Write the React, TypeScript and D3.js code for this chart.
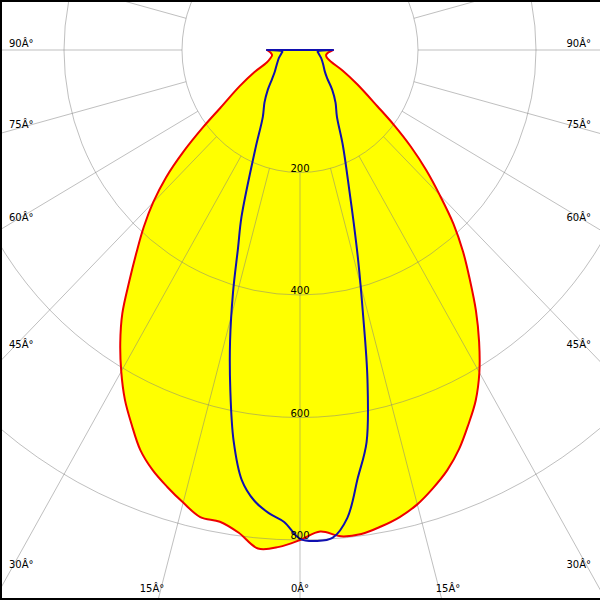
import React from "react";
import * as d3 from "d3";

// gamma angles (deg from nadir) and intensities (cd/klm)
const gammaRed = [0, 2.5, 5, 7.5, 10, 12.5, 15, 17.5, 20, 22.5, 25, 27.5, 30, 32.5, 35, 37.5, 40, 42.5, 45, 47.5, 50, 52.5, 55, 60, 65, 70, 75, 80, 85, 90];
const redC0 = [800, 787, 797, 797, 790, 781, 768, 750, 730, 705, 675, 645, 608, 565, 520, 473, 430, 385, 335, 290, 245, 200, 160, 112, 80, 56, 47, 45, 48, 56];
const redC180 = [800, 812, 817, 795, 782, 781, 765, 748, 730, 707, 675, 643, 606, 567, 525, 475, 431, 392, 352, 308, 257, 207, 165, 118, 85, 60, 52, 48, 50, 56];

const gammaBlue = [0, 2, 4, 6, 8, 10, 12, 14, 16, 18, 20, 25, 30, 35, 40, 45, 50, 60, 70, 80, 85, 90];
const blueC90 = [798, 802, 798, 768, 705, 650, 550, 440, 358, 293, 245, 172, 125, 105, 85, 65, 55, 45, 38, 32, 30, 56];
const blueC270 = [798, 771, 758, 740, 709, 648, 568, 490, 412, 340, 290, 180, 126, 105, 85, 67, 56, 45, 38, 32, 30, 56];

const ringValues = [200, 400, 600, 800];
const ringLabels = ["200", "400", "600", "800"];
const angleTicks = [90, 75, 60, 45, 30, 15, 0];
const angleLabel = (a: number) => `${a}Â°`;

const W = 600;
const H = 600;
const CX = 300;
const CY = 50;

const sx = d3.scaleLinear().domain([0, 200]).range([0, 118]);
const sy = d3.scaleLinear().domain([0, 200]).range([0, 122.5]);
const rad = (g: number) => (g * Math.PI) / 180;

function pt(g: number, r: number, side: number): [number, number] {
  return [CX + side * sx(r * Math.sin(rad(g))), CY + sy(r * Math.cos(rad(g)))];
}

function outline(gammas: number[], left: number[], right: number[]) {
  const pts: [number, number][] = [];
  for (let i = gammas.length - 1; i >= 0; i--) pts.push(pt(gammas[i], left[i], -1));
  for (let i = 1; i < gammas.length; i++) pts.push(pt(gammas[i], right[i], 1));
  const line = d3.line().curve(d3.curveCatmullRom.alpha(0.5));
  return (line(pts) || "") + "Z";
}

export default function App() {
  const redPath = outline(gammaRed, redC180, redC0);
  const bluePath = outline(gammaBlue, blueC270, blueC90);

  const radials = d3.range(0, 360, 15).map((a) => {
    const s = Math.sin(rad(a));
    const c = Math.cos(rad(a));
    return {
      x1: CX + sx(200 * s),
      y1: CY + sy(200 * c),
      x2: CX + sx(2000 * s),
      y2: CY + sy(2000 * c),
    };
  });

  const labels: { x: number; y: number; anchor: string; text: string }[] = [];
  angleTicks.forEach((g) => {
    const sides = g === 0 ? [0] : [-1, 1];
    sides.forEach((side) => {
      const kx = sx(Math.sin(rad(g)));
      const ky = sy(Math.cos(rad(g)));
      const tSide = kx > 0 ? (CX - 10) / kx : Infinity;
      const ySide = CY + tSide * ky;
      if (ySide < 580) {
        labels.push({
          x: side < 0 ? 9 : 591,
          y: ySide - 7 + 4,
          anchor: side < 0 ? "start" : "end",
          text: angleLabel(g),
        });
      } else {
        const t = (H - CY) / ky;
        const xb = CX + (side === 0 ? 0 : side * (t * kx + 6));
        labels.push({ x: xb, y: 592, anchor: "middle", text: angleLabel(g) });
      }
    });
  });

  return (
    <svg
      width={W}
      height={H}
      style={{ position: "fixed", left: 0, top: 0, background: "#fff" }}
      fontFamily="DejaVu Sans"
      fontSize={10}
    >
      <rect x={0} y={0} width={W} height={H} fill="#fff" />
      <path d={redPath} fill="#ffff00" stroke="none" />
      <g stroke="#808080" strokeOpacity={0.5} fill="none" strokeWidth={1}>
        {ringValues.map((v) => (
          <ellipse key={v} cx={CX} cy={CY} rx={sx(v)} ry={sy(v)} />
        ))}
        {radials.map((l, i) => (
          <line key={i} x1={l.x1} y1={l.y1} x2={l.x2} y2={l.y2} />
        ))}
      </g>
      <path d={redPath} fill="none" stroke="#ee0000" strokeWidth={2} strokeLinejoin="round" />
      <path d={bluePath} fill="none" stroke="#1010b0" strokeWidth={2} strokeLinejoin="round" />
      {ringValues.map((v, i) => (
        <text key={v} x={CX} y={CY + sy(v) - 1} textAnchor="middle" fill="#000">
          {ringLabels[i]}
        </text>
      ))}
      {labels.map((l, i) => (
        <text key={i} x={l.x} y={l.y} textAnchor={l.anchor} fill="#000">
          {l.text}
        </text>
      ))}
      <g stroke="#000" strokeWidth={2}>
        <line x1={1} y1={0} x2={1} y2={H} />
        <line x1={0} y1={1} x2={W} y2={1} />
        <line x1={0} y1={H - 1} x2={W} y2={H - 1} />
      </g>
    </svg>
  );
}
